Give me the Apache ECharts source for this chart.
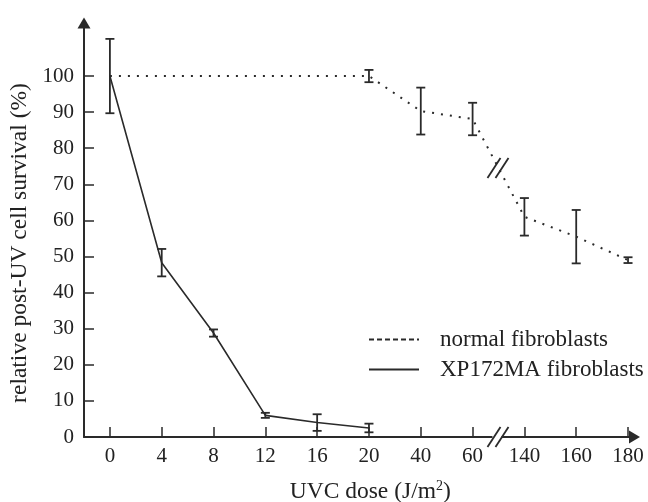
<!DOCTYPE html>
<html>
<head>
<meta charset="utf-8">
<script src="https://cdn.jsdelivr.net/npm/echarts@6/dist/echarts.min.js"></script>
<style>
html,body{margin:0;padding:0;background:#fff;}
#main{width:648px;height:502px;}
</style>
</head>
<body>
<div id="main"></div>
<script>
// ---- data ----
const doses = ['0','4','8','12','16','20','40','60','140','160','180'];
const yTicks = [0,10,20,30,40,50,60,70,80,90,100];

const normalDoses = ['0','20','40','60','140','160','180'];
const normalValues = [100, 100, 90.3, 88.1, 61, 55.5, 49];
const normalErr = [0, 1.7, 6.5, 4.5, 5.2, 7.4, 0.8];

const xpDoses = ['0','4','8','12','16','20'];
const xpValues = [100, 48.3, 28.8, 6, 4, 2.5];
const xpErr = [10.3, 3.8, 1, 0.7, 2.3, 1.2];

const breakAfter = '60';
const breakBefore = '140';

// ---- build ----
const FONT = "'Liberation Serif', 'Times New Roman', serif";
const INK = '#2a2a2a';
const idx = d => doses.indexOf(d);
const normalData = normalDoses.map((d, i) => [idx(d), normalValues[i]]);
const xpData = xpDoses.map((d, i) => [idx(d), xpValues[i]]);
const normalErrData = normalDoses.map((d, i) => [idx(d), normalValues[i] - normalErr[i], normalValues[i] + normalErr[i]]).filter((r, i) => normalErr[i] > 0);
const xpErrData = xpDoses.map((d, i) => [idx(d), xpValues[i] - xpErr[i], xpValues[i] + xpErr[i]]);

function renderErr(params, api) {
  const x = api.value(0);
  const lo = api.coord([x, api.value(1)]);
  const hi = api.coord([x, api.value(2)]);
  const hw = 4.5;
  const style = { stroke: INK, lineWidth: 1.8, fill: null };
  return {
    type: 'group',
    children: [
      { type: 'line', shape: { x1: lo[0], y1: lo[1], x2: hi[0], y2: hi[1] }, style },
      { type: 'line', shape: { x1: lo[0] - hw, y1: lo[1], x2: lo[0] + hw, y2: lo[1] }, style },
      { type: 'line', shape: { x1: hi[0] - hw, y1: hi[1], x2: hi[0] + hw, y2: hi[1] }, style }
    ]
  };
}

const chart = echarts.init(document.getElementById('main'), null, { renderer: 'canvas' });
const idxList = doses.map((d, i) => i);

chart.setOption({
  backgroundColor: '#ffffff',
  animation: false,
  grid: { left: 84, right: 13.5, top: 23, bottom: 65, containLabel: false, outerBoundsMode: 'none' },
  legend: {
    orient: 'vertical',
    left: 363,
    top: 323,
    itemWidth: 50,
    itemHeight: 14,
    itemGap: 7,
    data: [
      { name: 'normal fibroblasts', lineStyle: { type: [5, 3], width: 2 } },
      { name: 'XP172MA fibroblasts' }
    ],
    itemStyle: { opacity: 0 },
    textStyle: { fontFamily: FONT, fontSize: 23, color: '#222', padding: [0, 0, 0, 16] }
  },
  xAxis: {
    type: 'value',
    min: -0.5,
    max: 10.125,
    name: 'UVC dose (J/m{sup|2})',
    nameLocation: 'middle',
    nameGap: 42,
    nameTextStyle: {
      fontFamily: FONT, fontSize: 23.5, color: '#222', padding: [0, 0, 0, 22],
      rich: { sup: { fontFamily: FONT, fontSize: 14, color: '#222', verticalAlign: 'top', padding: [0, 0, 12, 0] } }
    },
    splitLine: { show: false },
    axisLine: { onZero: false, lineStyle: { color: INK, width: 2 }, symbol: ['none', 'triangle'], symbolSize: [13, 11] },
    axisTick: { inside: true, length: 10, customValues: idxList, lineStyle: { color: INK, width: 1.5 } },
    axisLabel: {
      customValues: idxList,
      formatter: v => doses[Math.round(v)],
      fontFamily: FONT, fontSize: 21, color: '#222', margin: 9
    }
  },
  yAxis: {
    type: 'value',
    min: 0,
    max: 114.7,
    name: 'relative post-UV cell survival (%)',
    nameLocation: 'middle',
    nameGap: 30,
    nameTextStyle: { fontFamily: FONT, fontSize: 23.5, color: '#222', padding: [0, 26, 0, 0] },
    splitLine: { show: false },
    axisLine: { onZero: false, lineStyle: { color: INK, width: 2 }, symbol: ['none', 'triangle'], symbolSize: [13, 11] },
    axisTick: { inside: true, length: 10, customValues: yTicks, lineStyle: { color: INK, width: 1.5 } },
    axisLabel: { customValues: yTicks, fontFamily: FONT, fontSize: 21, color: '#222', margin: 10 }
  },
  series: [
    {
      name: 'normal fibroblasts',
      type: 'line',
      data: normalData,
      symbol: 'none',
      lineStyle: { color: INK, width: 2, type: [2, 7] },
      itemStyle: { color: INK },
      z: 3
    },
    {
      name: 'XP172MA fibroblasts',
      type: 'line',
      data: xpData,
      symbol: 'none',
      lineStyle: { color: INK, width: 1.6, type: 'solid' },
      itemStyle: { color: INK },
      z: 3
    },
    { type: 'custom', name: 'normalErr', renderItem: renderErr, data: normalErrData, z: 4, silent: true },
    { type: 'custom', name: 'xpErr', renderItem: renderErr, data: xpErrData, z: 4, silent: true }
  ]
});

// break marks, positioned from the data via the chart's own scales
const bx = (idx(breakAfter) + idx(breakBefore)) / 2;
const ya = normalValues[normalDoses.indexOf(breakAfter)];
const yb = normalValues[normalDoses.indexOf(breakBefore)];
const pLine = chart.convertToPixel({ gridIndex: 0 }, [bx, (ya + yb) / 2]);
const pAxis = chart.convertToPixel({ gridIndex: 0 }, [bx, 0]);
function slashes(p, id) {
  const s = { stroke: INK, lineWidth: 1.8 };
  return [
    { type: 'rect', id: id + 'bg', shape: { x: p[0] - 6, y: p[1] - 2, width: 9, height: 4 }, style: { fill: '#fff' }, z: 10, silent: true },
    { type: 'line', id: id + 'a', shape: { x1: p[0] - 11, y1: p[1] + 10, x2: p[0] + 2, y2: p[1] - 10 }, style: s, z: 11, silent: true },
    { type: 'line', id: id + 'b', shape: { x1: p[0] - 3, y1: p[1] + 10, x2: p[0] + 10, y2: p[1] - 10 }, style: s, z: 11, silent: true }
  ];
}
chart.setOption({ graphic: slashes(pAxis, 'ax').concat(slashes(pLine, 'ln')) });
</script>
</body>
</html>
